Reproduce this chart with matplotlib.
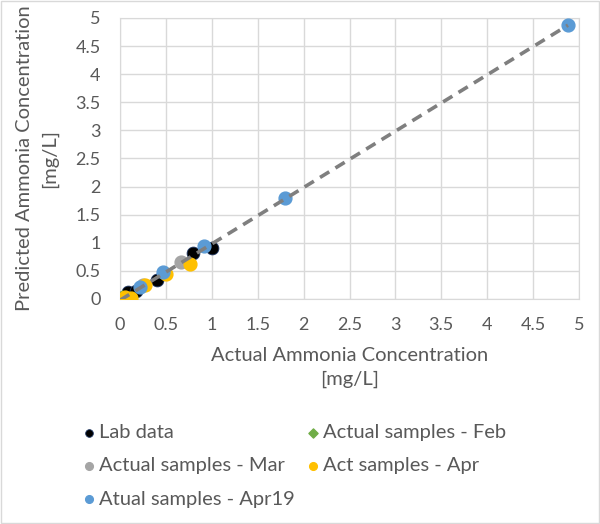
import numpy as np
import matplotlib.pyplot as plt
from matplotlib.patches import Rectangle

plt.rcParams['font.family'] = ['Lato', 'DejaVu Sans']

# series (actual, predicted) in mg/L
lab_x = [0.0, 0.09, 0.17, 0.40, 0.79, 1.00]
lab_y = [0.02, 0.12, 0.15, 0.34, 0.82, 0.90]
feb_x = [0.02]
feb_y = [0.01]
mar_x = [0.03, 0.25, 0.66]
mar_y = [0.00, 0.25, 0.66]
apr_x = [0.05, 0.12, 0.27, 0.50, 0.76]
apr_y = [0.04, 0.02, 0.25, 0.45, 0.63]
apr19_x = [0.22, 0.47, 0.92, 1.80, 4.88]
apr19_y = [0.22, 0.48, 0.95, 1.80, 4.88]

ticks = np.arange(0, 5.01, 0.5)
tick_labels = ["0", "0.5", "1", "1.5", "2", "2.5", "3", "3.5", "4", "4.5", "5"]

txt = "#595959"
grid_c = "#d9d9d9"

fig = plt.figure(figsize=(6, 5.24), dpi=100)
ax = fig.add_axes([0.2, 0.4294, 0.765, 0.5363])

ms = 85
h_lab = ax.scatter(lab_x, lab_y, s=ms, c="#000000", edgecolors="#203864", linewidths=0.6, zorder=3, label="Lab data")
h_feb = ax.scatter(feb_x, feb_y, s=60, c="#70ad47", marker="D", zorder=3, label="Actual samples - Feb")
h_mar = ax.scatter(mar_x, mar_y, s=ms, c="#a5a5a5", zorder=3, label="Actual samples - Mar")
h_apr = ax.scatter(apr_x, apr_y, s=ms, c="#ffc000", zorder=3, label="Act samples - Apr")
h_a19 = ax.scatter(apr19_x, apr19_y, s=ms, c="#5b9bd5", zorder=4, label="Atual samples - Apr19")

# linear trendline through all points
all_x = np.concatenate([lab_x, feb_x, mar_x, apr_x, apr19_x])
all_y = np.concatenate([lab_y, feb_y, mar_y, apr_y, apr19_y])
k, b = np.polyfit(all_x, all_y, 1)
tx = np.array([all_x.min(), all_x.max()])
ax.plot(tx, k * tx + b, color="#7f7f7f", lw=2.6, ls=(0, (3, 2)), zorder=5)

ax.set_xlim(0, 5)
ax.set_ylim(0, 5)
ax.set_xticks(ticks)
ax.set_yticks(ticks)
ax.set_xticklabels(tick_labels)
ax.set_yticklabels(tick_labels)
ax.tick_params(length=0, labelsize=13, colors=txt)
ax.tick_params(axis="x", pad=13)
ax.tick_params(axis="y", pad=14)
ax.grid(True, color=grid_c, lw=1)
ax.set_axisbelow(True)
for s in ax.spines.values():
    s.set_color(grid_c)

ax.set_xlabel("Actual Ammonia Concentration\n[mg/L]", fontsize=14.5, color=txt, labelpad=10, linespacing=1.5)
ax.set_ylabel("Predicted Ammonia Concentration\n[mg/L]", fontsize=14.5, color=txt, linespacing=1.55)
ax.yaxis.set_label_coords(-0.135, 0.5)

handles = [h_lab, h_mar, h_a19, h_feb, h_apr]
fig.legend(handles=handles, labels=[h.get_label() for h in handles], ncol=2,
           loc="upper left", bbox_to_anchor=(0.115, 0.21), frameon=False,
           fontsize=14.5, labelcolor=txt, handletextpad=0.0, columnspacing=0.4,
           labelspacing=0.8, markerscale=0.6, handlelength=1.0, borderpad=0)

fig.patches.append(Rectangle((0.001, 0.001), 0.997, 0.997, transform=fig.transFigure,
                             fill=False, edgecolor=grid_c, lw=1))

fig.savefig("out.png", dpi=100)
